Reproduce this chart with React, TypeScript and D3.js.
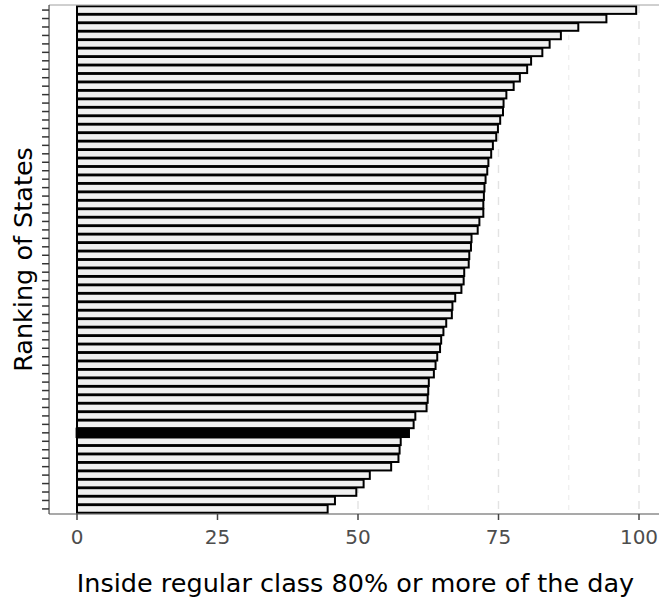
import React from "react";
import * as d3 from "d3";

const values: number[] = [
  99.5, 94.2, 89.2, 86.1, 84.1, 82.8, 80.8, 80.1, 78.8, 77.7,
  76.4, 75.9, 75.8, 75.3, 74.9, 74.6, 74.0, 73.7, 73.2, 73.0,
  72.7, 72.5, 72.4, 72.3, 72.3, 71.6, 71.3, 70.2, 70.1, 69.8,
  69.7, 68.9, 68.8, 68.4, 67.3, 66.8, 66.7, 65.7, 65.2, 64.8,
  64.6, 64.1, 63.8, 63.5, 62.6, 62.5, 62.4, 62.2, 60.2, 59.9,
  59.0, 57.6, 57.4, 57.2, 55.9, 52.1, 51.0, 49.7, 45.9, 44.6,
];
const ranks: string[] = values.map((_, i) => String(i + 1));
const highlightRank = "51";
const xTicks: number[] = [0, 25, 50, 75, 100];
const xMinor: number[] = [12.5, 37.5, 62.5, 87.5];
const xTitle = "Inside regular class 80% or more of the day";
const yTitle = "Ranking of States";

const W = 659;
const H = 600;
const FONT = "'DejaVu Sans', 'Liberation Sans', Arial, sans-serif";

export default function App() {
  const x = d3.scaleLinear().domain([0, 100]).range([77, 639]);
  const panelLeft = x(-4.975);
  const panelRight = x(104.475);
  const panelTop = 5;
  const panelBottom = 514;
  const y = d3
    .scaleBand<string>()
    .domain(ranks)
    .range([panelTop, panelBottom])
    .paddingInner(0.1)
    .paddingOuter(0.15);

  return (
    <svg
      width={W}
      height={H}
      style={{ position: "absolute", left: 0, top: 0, background: "#fff" }}
      fontFamily={FONT}
    >
      {/* grid */}
      {xMinor.map((v) => (
        <line
          key={"mi" + v}
          x1={x(v)}
          x2={x(v)}
          y1={panelTop}
          y2={panelBottom}
          stroke="#e8e8e8"
          strokeWidth={0.9}
          strokeDasharray="5,5"
        />
      ))}
      {xTicks.map((v) => (
        <line
          key={"ma" + v}
          x1={x(v)}
          x2={x(v)}
          y1={panelTop}
          y2={panelBottom}
          stroke="#e3e3e3"
          strokeWidth={1.4}
          strokeDasharray="8,8"
        />
      ))}
      {/* bars */}
      {ranks.map((r, i) => {
        const hl = r === highlightRank;
        return (
          <rect
            key={r}
            x={x(0)}
            y={y(r)!}
            width={x(values[i]) - x(0)}
            height={y.bandwidth()}
            fill={hl ? "#000" : "#f0f0f0"}
            stroke="#000"
            strokeWidth={hl ? 2.8 : 2}
          />
        );
      })}
      {/* panel lines */}
      <line x1={panelLeft} x2={panelRight} y1={panelTop} y2={panelTop} stroke="#a0a0a0" strokeWidth={1} />
      <line x1={panelLeft} x2={panelLeft} y1={panelTop} y2={panelBottom} stroke="#444" strokeWidth={1.2} />
      <line x1={panelLeft} x2={panelRight} y1={panelBottom} y2={panelBottom} stroke="#555" strokeWidth={1.2} />
      {/* y ticks */}
      {ranks.map((r) => (
        <line
          key={"yt" + r}
          x1={panelLeft - 7}
          x2={panelLeft}
          y1={y(r)! + y.bandwidth() / 2}
          y2={y(r)! + y.bandwidth() / 2}
          stroke="#333"
          strokeWidth={1.5}
        />
      ))}
      {/* x ticks */}
      {xTicks.map((v) => (
        <g key={"xt" + v}>
          <line x1={x(v)} x2={x(v)} y1={panelBottom} y2={panelBottom + 6} stroke="#444" strokeWidth={1.5} />
          <text x={x(v)} y={544} textAnchor="middle" fontSize={20} fill="#4d4d4d">
            {v}
          </text>
        </g>
      ))}
      {/* titles */}
      <text x={355.5} y={592} textAnchor="middle" fontSize={25.5} fill="#000">
        {xTitle}
      </text>
      <text
        transform={`translate(32, ${(panelTop + panelBottom) / 2}) rotate(-90)`}
        textAnchor="middle"
        fontSize={25.5}
        fill="#000"
      >
        {yTitle}
      </text>
    </svg>
  );
}
